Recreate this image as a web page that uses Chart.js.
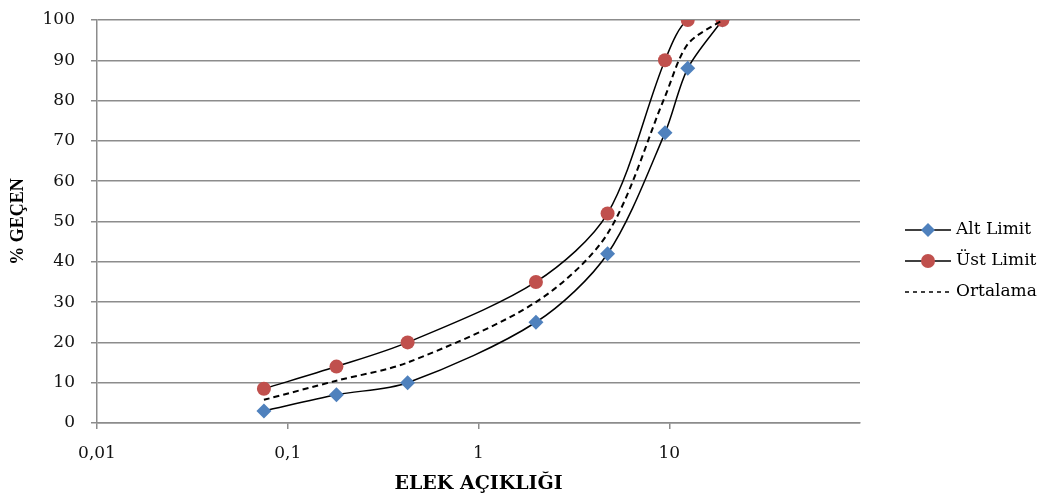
<!DOCTYPE html>
<html>
<head>
<meta charset="utf-8">
<script src="https://cdn.jsdelivr.net/npm/chart.js@4.4.1/dist/chart.umd.min.js"></script>
<style>
  html, body { margin: 0; padding: 0; background: #fff; }
  #wrap { width: 1050px; height: 497px; position: relative; }
</style>
</head>
<body>
<div id="wrap"><canvas id="gradationChart"></canvas></div>
<script>
// sieve openings (mm) and passing percentages
const sieves = [0.075, 0.18, 0.425, 2, 4.75, 9.5, 12.5, 19];
const altLimit = [3, 7, 10, 25, 42, 72, 88, 100];
const ustLimit = [8.5, 14, 20, 35, 52, 90, 100, 100];
const ortalama = [5.75, 10.5, 15, 30, 47, 81, 94, 100];
const xTicks = [0.01, 0.1, 1, 10];
const yTicks = [0, 10, 20, 30, 40, 50, 60, 70, 80, 90, 100];

const BLUE = '#4F81BD';
const RED = '#C0504D';
const GRID = '#8c8c8c';
const SERIF = '"DejaVu Serif", "Liberation Serif", serif';

function pts(vals) {
    return sieves.map(function(s, i) { return { x: s, y: vals[i] }; });
}

// legend drawn like the Excel one: line with the marker in the middle
const sideLegend = {
    id: 'sideLegend',
    afterDraw: function(chart) {
        const ctx = chart.ctx;
        const rows = [
            { label: 'Alt Limit', marker: 'diamond', color: BLUE, dash: [] },
            { label: 'Üst Limit', marker: 'circle', color: RED, dash: [] },
            { label: 'Ortalama', marker: null, color: null, dash: [4, 4] }
        ];
        const x0 = 905, x1 = 951, y0 = 230, step = 31;
        ctx.save();
        rows.forEach(function(r, i) {
            const y = y0 + i * step;
            ctx.beginPath();
            ctx.setLineDash(r.dash);
            ctx.strokeStyle = '#000';
            ctx.lineWidth = 1.5;
            ctx.moveTo(x0, y);
            ctx.lineTo(x1, y);
            ctx.stroke();
            ctx.setLineDash([]);
            const cx = (x0 + x1) / 2;
            if (r.marker === 'diamond') {
                ctx.fillStyle = r.color;
                ctx.beginPath();
                ctx.moveTo(cx, y - 7);
                ctx.lineTo(cx + 7, y);
                ctx.lineTo(cx, y + 7);
                ctx.lineTo(cx - 7, y);
                ctx.closePath();
                ctx.fill();
            } else if (r.marker === 'circle') {
                ctx.fillStyle = r.color;
                ctx.beginPath();
                ctx.arc(cx, y, 7, 0, Math.PI * 2);
                ctx.fill();
            }
            ctx.fillStyle = '#000';
            ctx.font = '17px ' + SERIF;
            ctx.textAlign = 'left';
            ctx.textBaseline = 'middle';
            ctx.fillText(r.label, 956, y);
        });
        ctx.restore();
    }
};

new Chart(document.getElementById('gradationChart').getContext('2d'), {
    type: 'line',
    data: {
        datasets: [
            { label: 'Alt Limit', data: pts(altLimit), borderColor: '#000', borderWidth: 1.5, tension: 0.3,
              pointStyle: 'rectRot', pointRadius: 7.5, pointBackgroundColor: BLUE, pointBorderWidth: 0, order: 2 },
            { label: 'Üst Limit', data: pts(ustLimit), borderColor: '#000', borderWidth: 1.5, tension: 0.3,
              pointStyle: 'circle', pointRadius: 7, pointBackgroundColor: RED, pointBorderWidth: 0, order: 1,
              // the reference has no line between the last two red points
              segment: { borderColor: function(c) { return c.p0DataIndex === sieves.length - 2 ? 'rgba(0,0,0,0)' : '#000'; } } },
            { label: 'Ortalama', data: pts(ortalama), borderColor: '#000', borderWidth: 2, borderDash: [6, 4], tension: 0.3,
              pointRadius: 0, order: 0 }
        ]
    },
    options: {
        responsive: true, maintainAspectRatio: false, animation: false,
        layout: { padding: { left: 0, right: 190, top: 20, bottom: 0 } },
        plugins: { legend: { display: false }, tooltip: { enabled: false } },
        scales: {
            x: {
                type: 'logarithmic', min: 0.01, max: 100,
                afterBuildTicks: function(s) { s.ticks = xTicks.map(function(v) { return { value: v }; }); },
                afterFit: function(s) { s.height = 74; s.paddingLeft = 0; s.paddingRight = 0; },
                border: { color: GRID, width: 1.5 },
                grid: { drawOnChartArea: false, color: GRID, tickLength: 6, lineWidth: 1.5 },
                ticks: { color: '#111', padding: 14, maxRotation: 0, autoSkip: false, font: { family: SERIF, size: 17 },
                         callback: function(v) { return String(v).replace('.', ','); } },
                title: { display: true, text: 'ELEK AÇIKLIĞI', color: '#000', padding: { bottom: 2 },
                         font: { family: SERIF, size: 19, weight: 'bold' } }
            },
            y: {
                min: 0, max: 100,
                afterBuildTicks: function(s) { s.ticks = yTicks.map(function(v) { return { value: v }; }); },
                afterFit: function(s) { s.width = 97; s.paddingTop = 0; s.paddingBottom = 0; },
                border: { color: GRID, width: 1.5 },
                grid: { color: GRID, tickLength: 6, lineWidth: 1.5 },
                ticks: { color: '#111', padding: 16, font: { family: SERIF, size: 17 } },
                title: { display: true, text: '% GEÇEN', color: '#000', padding: { top: 8 },
                         font: { family: '"Liberation Serif", serif', size: 18, weight: 'bold' } }
            }
        }
    },
    plugins: [sideLegend]
});
</script>
</body>
</html>
